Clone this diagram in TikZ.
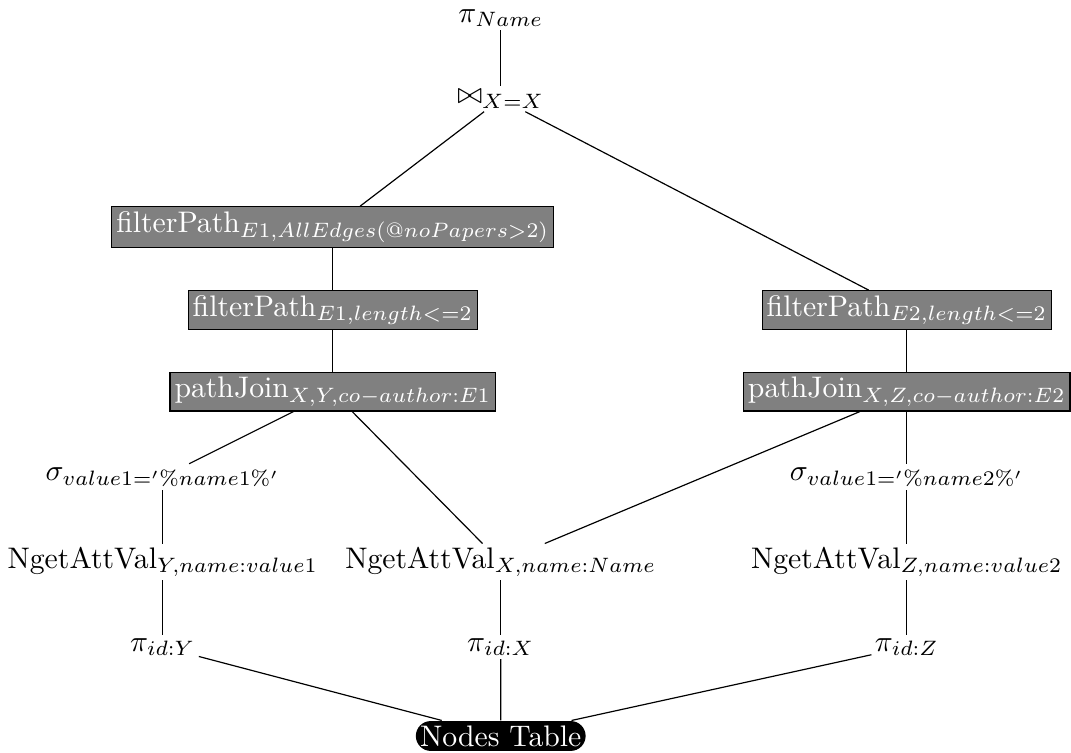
\documentclass[tikz,border=0pt]{standalone}
\usepackage{amsmath,amssymb}
\usepackage{xcolor}
\usepackage{tikz}
\usetikzlibrary{shapes.misc, positioning}

\begin{document}
\begin{tikzpicture}[
    on grid,
    node distance=1.005cm and 2.01cm,
    op/.style={inner sep=1pt},
    pathop/.style={rectangle, draw=black, fill=black!50, text=white, inner sep=1.5pt},
    tbl/.style={rounded rectangle, fill=black, text=white, inner xsep=0pt, inner ysep=1.5pt},
    edge/.style={draw=black}
]
\useasboundingbox (0,0) rectangle (12.66,-8.90);

% Nodes
\node (proj) [op] at (5.92,-0.213) {$\pi_{Name}$};
\node (join) [op, below=0.957cm of proj] {$\bowtie_{X=X}$};
\node (fpall) [pathop, below left=1.513cm and 1.986cm of join] {filterPath$_{E1,AllEdges(@noPapers>2)}$};
\node (fpone) [pathop, below=0.981cm of fpall] {filterPath$_{E1,length<=2}$};
\node (pjy) [pathop, below=0.969cm of fpone] {pathJoin$_{X,Y,co-author:E1}$};
\node (fptwo) [pathop, right=6.785cm of fpone] {filterPath$_{E2,length<=2}$};
\node (pjz) [pathop, below=0.969cm of fptwo] {pathJoin$_{X,Z,co-author:E2}$};
\node (selone) [op, below left=of pjy] {$\sigma_{value1='\%name1\%'}$};
\node (seltwo) [op, below=of pjz] {$\sigma_{value1='\%name2\%'}$};
\node (gety) [op, below=of selone] {NgetAttVal$_{Y,name:value1}$};
\node (getx) [op, right=3.995cm of gety] {NgetAttVal$_{X,name:Name}$};
\node (getz) [op, below=of seltwo] {NgetAttVal$_{Z,name:value2}$};
\node (idy) [op, below=of gety] {$\pi_{id:Y}$};
\node (idx) [op, below=of getx] {$\pi_{id:X}$};
\node (idz) [op, below=of getz] {$\pi_{id:Z}$};
\node (table) [tbl, below=1.052cm of idx] {Nodes Table};

% Edges
\draw [edge] (proj) -- (join);
\draw [edge] (join) -- (fpall);
\draw [edge] (join) -- (fptwo);
\draw [edge] (fpall) -- (fpone);
\draw [edge] (fpone) -- (pjy);
\draw [edge] (fptwo) -- (pjz);
\draw [edge] (pjy) -- (selone);
\draw [edge] (pjy) -- (getx);
\draw [edge] (pjz) -- (getx);
\draw [edge] (pjz) -- (seltwo);
\draw [edge] (selone) -- (gety);
\draw [edge] (seltwo) -- (getz);
\draw [edge] (gety) -- (idy);
\draw [edge] (getx) -- (idx);
\draw [edge] (getz) -- (idz);
\draw [edge] (idy) -- (table);
\draw [edge] (idx) -- (table);
\draw [edge] (idz) -- (table);

\end{tikzpicture}
\end{document}
